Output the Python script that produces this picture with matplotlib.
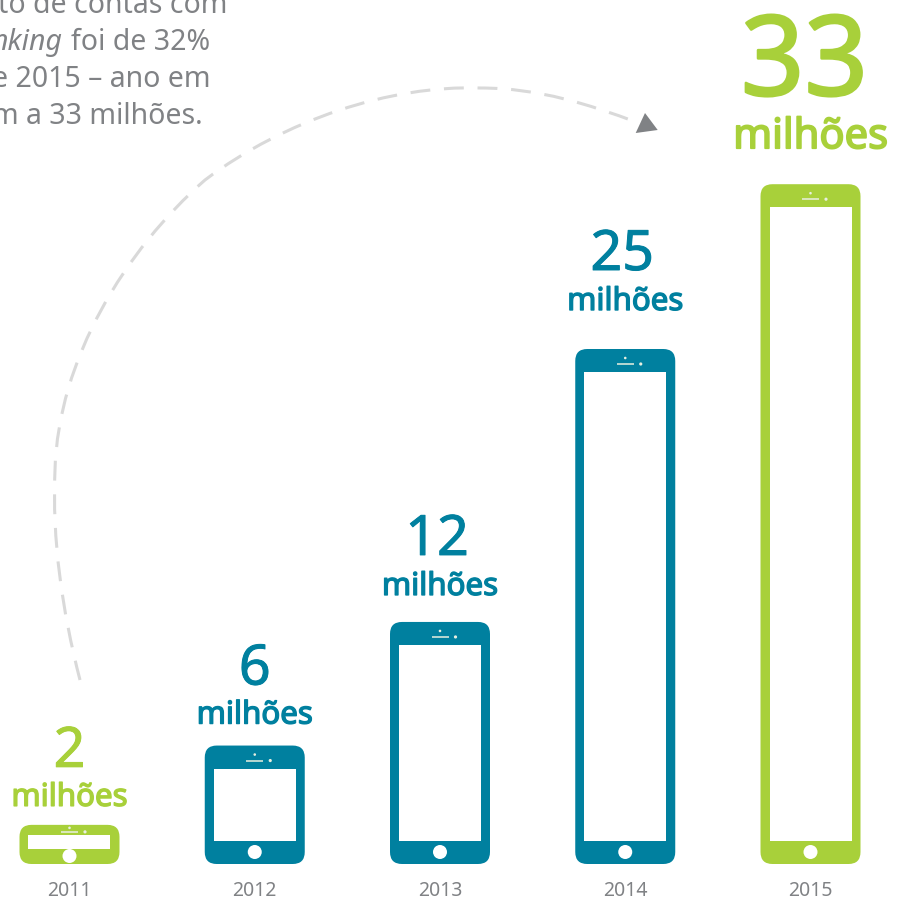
import matplotlib
matplotlib.use("Agg")
import matplotlib.pyplot as plt
import matplotlib.patheffects as pe
from matplotlib.patches import FancyBboxPatch, Rectangle, Circle, Polygon, PathPatch
from matplotlib.path import Path

years = ["2011", "2012", "2013", "2014", "2015"]
labels = ["2", "6", "12", "25", "33"]
heights = [1.9, 5.75, 11.75, 25, 33]
highlight = ["2011", "2015"]
note_lines = ["to de contas com", "foi de 32%", "e 2015 – ano em", "m a 33 milhões."]
note_italic = "nking"
unit = "milhões"

GREEN = "#a8d03a"
TEAL = "#00809f"
GREY = "#808285"
FONT = "Noto Sans"

W = 901
fig = plt.figure(figsize=(9.01, 9.01), dpi=100, facecolor="white")

# data axes: x = category index, y = millions
ax = fig.add_axes([0, 0, 1, 1])
step, x0, y0, scale = 185.25, 69.5, 864, 20.6
ax.set_xlim(-x0 / step, (W - x0) / step)
ax.set_ylim(-(W - y0) / scale, y0 / scale)
ax.axis("off")

# overlay in pixels for the pictogram details
ov = fig.add_axes([0, 0, 1, 1], facecolor="none")
ov.set_xlim(0, W)
ov.set_ylim(W, 0)
ov.axis("off")


def to_px(i, v):
    x, y = ax.transData.transform((i, v))
    return x, W - y


def phone(i, v, color):
    cx, top = to_px(i, v)
    _, bottom = to_px(i, 0)
    hw, r = 50, 12
    ov.add_patch(FancyBboxPatch((cx - hw + r, top + r), 2 * hw - 2 * r, bottom - top - 2 * r,
                                boxstyle=f"round,pad={r},rounding_size={r}", fc=color, ec="none"))
    short = bottom - top < 60
    s_top = top + (10 if short else 23)
    s_bot = bottom - (15 if short else 23)
    ov.add_patch(Rectangle((cx - 41, s_top), 82, s_bot - s_top, fc="white", ec="none"))
    by = bottom - (8 if short else 12)
    ov.add_patch(Circle((cx, by), 7, fc="white", ec="none"))
    sy = top + (7 if short else 15)
    ov.plot([cx - 8.5, cx + 8.5], [sy, sy], color="#e8efe0", lw=1.1, solid_capstyle="butt")
    ov.add_patch(Circle((cx, sy - (4 if short else 6)), 1.3, fc="#e8efe0", ec="none"))
    ov.add_patch(Circle((cx + 15.5, sy), 1.6, fc="#e8efe0", ec="none"))


unit_gap = [19, 22, 27, 39, 36]
num_gap = [39, 39, 40, 40, 53]
x_nudge = [0, 0, -3, -3, -6]

for i, (yr, lab, h) in enumerate(zip(years, labels, heights)):
    col = GREEN if yr in highlight else TEAL
    phone(i, h, col)
    cx, top = to_px(i, h)
    big = yr == "2015"
    ub = top - unit_gap[i]
    u = ov.text(cx, ub, unit, ha="center", va="baseline", color=col, family=FONT,
                fontsize=30 if big else 22.5)
    u.set_path_effects([pe.withStroke(linewidth=1.3 if big else 1.0, foreground=col)])
    num = ov.text(cx + x_nudge[i], ub - num_gap[i], lab, ha="center", va="baseline", color=col,
                  family=FONT, fontsize=80 if big else 40)
    num.set_path_effects([pe.withStroke(linewidth=1.8 if big else 0.7, foreground=col)])
    ov.text(cx, 896, yr, ha="center", va="baseline", color=GREY, family=FONT, fontsize=14)

# note (cropped by the figure edge)
note_size = 20.5
ov.text(227, 13, note_lines[0], ha="right", va="baseline", color=GREY, family=FONT, fontsize=note_size)
ov.text(210, 50, note_lines[1], ha="right", va="baseline", color=GREY, family=FONT, fontsize=note_size)
ov.text(62, 50, note_italic, ha="right", va="baseline", color=GREY, family=FONT, fontsize=note_size, style="italic")
ov.text(211, 87, note_lines[2], ha="right", va="baseline", color=GREY, family=FONT, fontsize=note_size)
ov.text(203, 124, note_lines[3], ha="right", va="baseline", color=GREY, family=FONT, fontsize=note_size)

# dashed arc and arrow head
verts = [(80, 680), (62, 610), (52, 540), (55, 470),
         (58, 360), (125, 250), (205, 180),
         (285, 120), (390, 85), (480, 88),
         (540, 88), (590, 105), (636, 122)]
codes = [Path.MOVETO] + [Path.CURVE4] * 12
ov.add_patch(PathPatch(Path(verts, codes), fc="none", ec="#d9d9d9", lw=2.2,
                       linestyle=(0, (6.5, 4.5))))
ov.add_patch(Polygon([(645, 113), (657.7, 130), (635.7, 133)], fc=GREY, ec="none"))

fig.savefig("out.png", dpi=100)
